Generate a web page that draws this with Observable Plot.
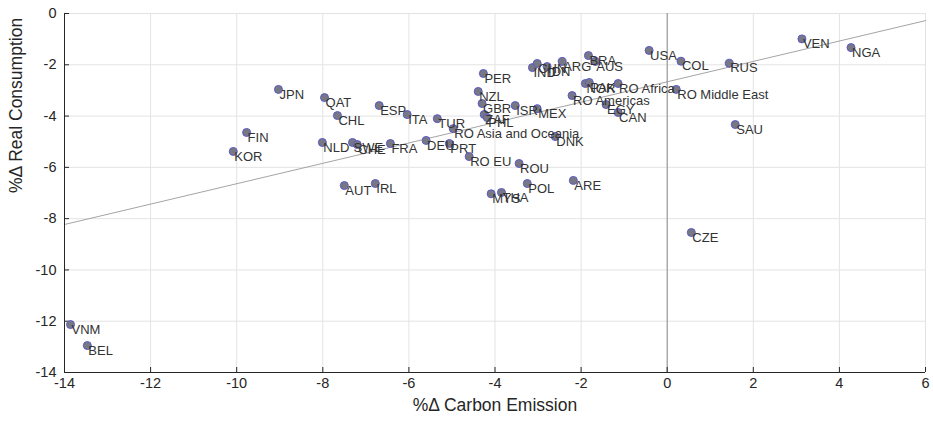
<!DOCTYPE html>
<html>
<head>
<meta charset="utf-8">
<script src="https://cdn.jsdelivr.net/npm/d3@7"></script>
<script src="https://cdn.jsdelivr.net/npm/@observablehq/plot@0.6"></script>
<style>
  html, body { margin: 0; padding: 0; background: #fff; }
</style>
</head>
<body>
<div id="chart"></div>
<script>
const countries = ["VNM","BEL","KOR","FIN","JPN","QAT","CHL","NLD","SWE","CHE","ESP","ITA","FRA","AUT","IRL","TUR","DEU","PRT","RO Asia and Oceania","RO EU","PER","NZL","GBR","ZAF","PHL","ISR","MEX","MYS","THA","ROU","POL","IND","CHN","IDN","ARG","DNK","RO Americas","ARE","BRA","AUS","NOR","PAK","RO Africa","EGY","CAN","USA","COL","RO Middle East","CZE","RUS","SAU","VEN","NGA"];
const carbon = [-13.86,-13.47,-10.08,-9.77,-9.03,-7.96,-7.66,-8.01,-7.31,-7.20,-6.69,-6.04,-6.43,-7.50,-6.78,-5.34,-5.60,-5.06,-4.97,-4.60,-4.27,-4.39,-4.30,-4.25,-4.18,-3.53,-3.02,-4.09,-3.85,-3.44,-3.25,-3.13,-3.02,-2.79,-2.44,-2.60,-2.21,-2.18,-1.83,-1.67,-1.90,-1.81,-1.14,-1.42,-1.14,-0.42,0.32,0.21,0.56,1.44,1.58,3.13,4.27];
const consumption = [-12.13,-12.95,-5.38,-4.64,-2.96,-3.28,-3.98,-5.03,-5.03,-5.11,-3.59,-3.94,-5.07,-6.71,-6.63,-4.10,-4.95,-5.07,-4.49,-5.58,-2.34,-3.04,-3.51,-3.94,-4.06,-3.59,-3.71,-7.03,-6.98,-5.85,-6.63,-2.11,-1.95,-2.07,-1.87,-4.80,-3.20,-6.51,-1.64,-1.87,-2.73,-2.69,-2.73,-3.55,-3.86,-1.44,-1.86,-2.96,-8.54,-1.94,-4.33,-0.99,-1.33];
const xTicks = [-14,-12,-10,-8,-6,-4,-2,0,2,4,6];
const yTicks = [-14,-12,-10,-8,-6,-4,-2,0];
const xDomain = [-14, 6];
const yDomain = [-14, 0];

const data = countries.map((c, i) => ({name: c, x: carbon[i], y: consumption[i]}));

// least-squares fit from the data
const mx = d3.mean(carbon), my = d3.mean(consumption);
const slope = d3.sum(data, d => (d.x - mx) * (d.y - my)) / d3.sum(data, d => (d.x - mx) ** 2);
const intercept = my - slope * mx;
const fit = xDomain.map(x => ({x, y: intercept + slope * x}));

const font = "'Liberation Sans', Arial, Helvetica, sans-serif";
const fmt = d => String(d);

const chart = Plot.plot({
  width: 933,
  height: 422,
  marginLeft: 64,
  marginRight: 8,
  marginTop: 13,
  marginBottom: 50,
  style: {fontFamily: font, background: "#fff", color: "#262626"},
  x: {domain: xDomain},
  y: {domain: yDomain},
  marks: [
    Plot.gridX(xTicks, {stroke: "#e3e3e3", strokeOpacity: 1}),
    Plot.gridY(yTicks, {stroke: "#e3e3e3", strokeOpacity: 1}),
    Plot.ruleX([0], {stroke: "#8c8c8c", strokeWidth: 1}),
    Plot.line(fit, {x: "x", y: "y", stroke: "#9a9a9a", strokeWidth: 0.9}),
    Plot.axisX(xTicks, {tickSize: 0, tickPadding: 5, fontSize: 14.5, tickFormat: fmt, label: null, color: "#262626"}),
    Plot.axisY(yTicks, {tickSize: 0, tickPadding: 8, fontSize: 14.5, tickFormat: fmt, label: null, color: "#262626"}),
    Plot.axisX(xTicks, {tickSize: 5, dy: -5, tickFormat: () => "", label: null, stroke: "#262626"}),
    Plot.axisY(yTicks, {tickSize: 5, dx: 5, tickFormat: () => "", label: null, stroke: "#262626"}),
    Plot.ruleX([xDomain[0]], {stroke: "#262626", strokeWidth: 1}),
    Plot.ruleY([yDomain[0]], {stroke: "#262626", strokeWidth: 1}),
    Plot.text(["%Δ Carbon Emission"], {frameAnchor: "bottom", dy: 38, fontSize: 17.5, fill: "#262626", text: d => d}),
    Plot.text(["%Δ Real Consumption"], {frameAnchor: "left", dx: -48, rotate: -90, fontSize: 17.5, fill: "#262626", text: d => d}),
    Plot.dot(data, {x: "x", y: "y", r: 4, fill: "#787884", stroke: "#5a5ac8", strokeWidth: 1}),
    Plot.text(data, {x: "x", y: "y", text: "name", textAnchor: "start", dx: 1, dy: 5, fontSize: 13, fill: "#333333"})
  ]
});
document.getElementById("chart").appendChild(chart);
</script>
</body>
</html>
